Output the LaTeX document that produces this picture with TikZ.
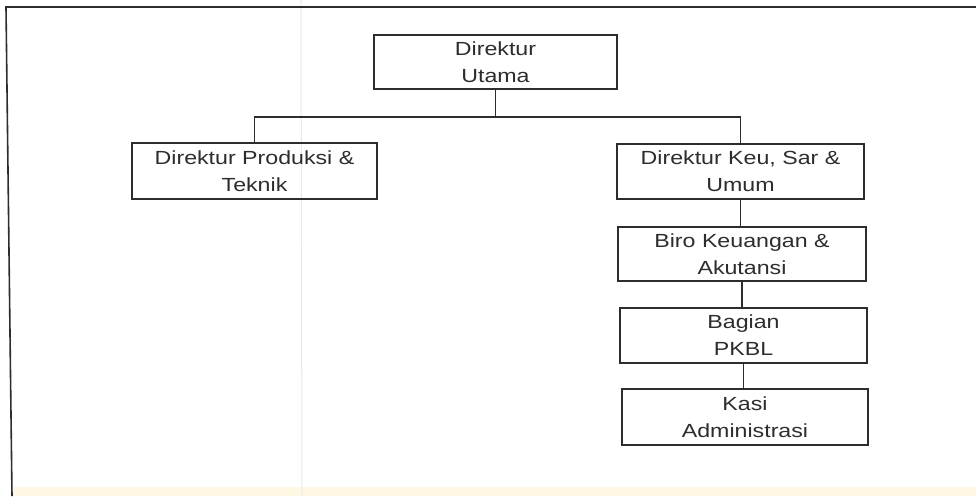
\documentclass[tikz,border=0pt]{standalone}
\usepackage{fontspec}
\setmainfont[FakeStretch=1.22]{Liberation Sans}
\definecolor{inkc}{RGB}{45,45,45}
\definecolor{creamc}{RGB}{253,247,228}
\begin{document}
\begin{tikzpicture}[x=1pt,y=1pt,
  box/.style={draw=inkc, line width=1.4pt, rectangle, align=center, inner sep=0pt,
    font=\fontsize{19}{27}\selectfont, text=inkc},
  link/.style={draw=inkc, line width=1.4pt}]
\useasboundingbox (0,0) rectangle (976,-496);
\fill[white] (0,0) rectangle (976,-496);
% scan artefacts
\fill[creamc] (13,-487) rectangle (976,-496);
\draw[gray!18, line width=1pt] (301,0) -- (302,-496);
% frame
\draw[inkc, line width=1.6pt] (976,-7) -- (6,-7) -- (12,-496);
% boxes
\node[box, minimum width=243, minimum height=54] (top) at (495.5,-62) {Direktur\\Utama};
\node[box, minimum width=245, minimum height=56] (prod) at (254.5,-171) {Direktur Produksi \&\\Teknik};
\node[box, minimum width=247, minimum height=55] (keu) at (740.5,-171.5) {Direktur Keu, Sar \&\\Umum};
\node[box, minimum width=248, minimum height=54] (biro) at (742,-254) {Biro Keuangan \&\\Akutansi};
\node[box, minimum width=247, minimum height=55] (bag) at (743.5,-335.5) {Bagian\\PKBL};
\node[box, minimum width=246, minimum height=56] (kasi) at (745,-417) {Kasi\\Administrasi};
% connectors
\coordinate (bus) at (495.5,-117);
\draw[link] (top.south) -- (bus);
\draw[link] (prod.north) |- (bus) -| (keu.north);
\draw[link] (keu.south) -- (keu.south |- biro.north);
\draw[link] (biro.south) -- (biro.south |- bag.north);
\draw[link] (bag.south) -- (bag.south |- kasi.north);
\end{tikzpicture}
\end{document}
